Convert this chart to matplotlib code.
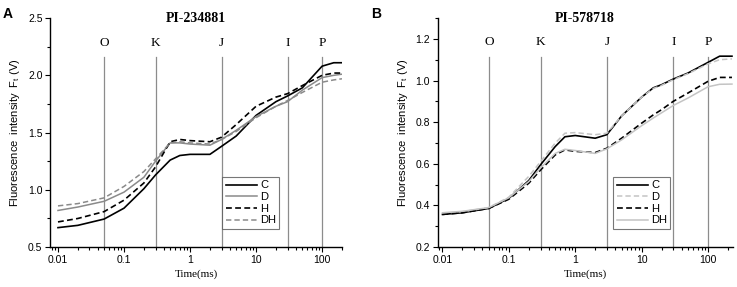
import matplotlib
matplotlib.use("Agg")
import matplotlib.pyplot as plt
from matplotlib.ticker import MultipleLocator, LogLocator, FixedLocator, NullFormatter
import numpy as np

plt.rcParams['font.family'] = ['Liberation Sans', 'DejaVu Sans']

# time points (ms)
t = [0.01, 0.02, 0.05, 0.1, 0.2, 0.3, 0.5, 0.7, 1, 2, 3, 5, 10, 20, 30, 50, 100, 150, 200]

# panel A: PI-234881
a_C = [0.67, 0.69, 0.745, 0.84, 1.01, 1.13, 1.26, 1.30, 1.31, 1.31, 1.38, 1.47, 1.65, 1.77, 1.82, 1.89, 2.08, 2.11, 2.11]
a_D = [0.82, 0.85, 0.90, 0.98, 1.11, 1.25, 1.41, 1.41, 1.40, 1.39, 1.44, 1.52, 1.64, 1.73, 1.77, 1.87, 1.98, 2.00, 2.01]
a_H = [0.72, 0.75, 0.81, 0.91, 1.06, 1.20, 1.42, 1.44, 1.43, 1.42, 1.46, 1.57, 1.73, 1.81, 1.84, 1.91, 2.00, 2.02, 2.02]
a_DH = [0.86, 0.88, 0.93, 1.03, 1.16, 1.27, 1.41, 1.42, 1.41, 1.40, 1.44, 1.51, 1.63, 1.73, 1.78, 1.85, 1.94, 1.96, 1.97]

# panel B: PI-578718
tb = [0.01, 0.02, 0.05, 0.1, 0.2, 0.3, 0.5, 0.7, 1, 2, 3, 5, 10, 15, 20, 30, 50, 100, 150, 230]
b_C = [0.357, 0.365, 0.386, 0.434, 0.52, 0.595, 0.683, 0.73, 0.736, 0.723, 0.74, 0.83, 0.92, 0.965, 0.98, 1.007, 1.036, 1.087, 1.117, 1.117]
b_D = [0.362, 0.37, 0.39, 0.44, 0.54, 0.61, 0.70, 0.747, 0.75, 0.74, 0.747, 0.83, 0.92, 0.962, 0.977, 1.004, 1.033, 1.08, 1.10, 1.104]
b_H = [0.357, 0.365, 0.386, 0.43, 0.507, 0.57, 0.643, 0.667, 0.66, 0.654, 0.675, 0.723, 0.795, 0.835, 0.86, 0.90, 0.94, 0.996, 1.015, 1.015]
b_DH = [0.365, 0.372, 0.39, 0.437, 0.515, 0.58, 0.65, 0.67, 0.664, 0.65, 0.672, 0.715, 0.783, 0.82, 0.845, 0.88, 0.916, 0.97, 0.982, 0.983]

marks = [0.05, 0.3, 3, 30, 100]
mark_labels = ['O', 'K', 'J', 'I', 'P']
xticks = [0.01, 0.1, 1, 10, 100]
xticklabels = ['0.01', '0.1', '1', '10', '100']

fig = plt.figure(figsize=(7.37, 2.87), dpi=100)
axA = fig.add_axes([0.068, 0.139, 0.396, 0.798])
axB = fig.add_axes([0.594, 0.139, 0.400, 0.798])


def style_axis(ax, ylim, ymajor, yminor, xlim, title, line_top, label_y):
    ax.set_xscale('log')
    ax.set_xlim(*xlim)
    ax.set_ylim(*ylim)
    for s in ['top', 'right']:
        ax.spines[s].set_visible(False)
    for s in ['left', 'bottom']:
        ax.spines[s].set_linewidth(1.0)
    ax.xaxis.set_major_locator(FixedLocator(xticks))
    ax.set_xticklabels(xticklabels)
    ax.xaxis.set_minor_locator(LogLocator(base=10, subs=np.arange(2, 10)))
    ax.xaxis.set_minor_formatter(NullFormatter())
    ax.yaxis.set_major_locator(MultipleLocator(ymajor))
    ax.yaxis.set_minor_locator(MultipleLocator(yminor))
    ax.tick_params(which='major', direction='out', length=3.5, width=0.8, labelsize=7.5, pad=2)
    ax.tick_params(which='minor', direction='out', length=2, width=0.8)
    ax.text(0.5, 1.0, title, transform=ax.transAxes, ha='center', va='center',
            fontsize=10, fontweight='bold', family='Liberation Serif')
    ax.set_xlabel('Time(ms)', fontsize=8, family='Liberation Serif', labelpad=3)
    ax.set_ylabel('Fluorescence  intensity  F$_\\mathregular{t}$ (V)', fontsize=8, labelpad=4)
    for m, lab in zip(marks, mark_labels):
        ax.plot([m, m], [ylim[0], line_top], color='#8c8c8c', lw=0.9, zorder=1)
        ax.text(m, label_y, lab, ha='center', va='center', fontsize=9.5, family='Liberation Serif')


style_axis(axA, (0.5, 2.5), 0.5, 0.25, (0.0076, 200), 'PI-234881', 2.16, 2.28)
axA.plot(t, a_C, color='black', lw=1.2, label='C', zorder=3)
axA.plot(t, a_D, color='#8a8a8a', lw=1.1, label='D', zorder=3)
axA.plot(t, a_H, color='black', lw=1.2, ls=(0, (3.5, 2)), label='H', zorder=3)
axA.plot(t, a_DH, color='#8a8a8a', lw=1.1, ls=(0, (3.5, 2)), label='DH', zorder=3)

style_axis(axB, (0.2, 1.3), 0.2, 0.1, (0.0085, 235), 'PI-578718', 1.115, 1.187)
axB.yaxis.set_major_locator(FixedLocator([0.2, 0.4, 0.6, 0.8, 1.0, 1.2]))
axB.plot(tb, b_C, color='black', lw=1.2, label='C', zorder=3)
axB.plot(tb, b_D, color='#c4c4c4', lw=1.1, ls=(0, (3.5, 2)), label='D', zorder=3)
axB.plot(tb, b_H, color='black', lw=1.2, ls=(0, (3.5, 2)), label='H', zorder=3)
axB.plot(tb, b_DH, color='#c4c4c4', lw=1.1, label='DH', zorder=3)

for ax, anchor in [(axA, (0.59, 0.08)), (axB, (0.595, 0.08))]:
    leg = ax.legend(loc='lower left', bbox_to_anchor=anchor, fontsize=8, frameon=True,
                    fancybox=False, edgecolor='#555555', handlelength=2.8, handletextpad=0.3,
                    labelspacing=0.15, borderpad=0.3, borderaxespad=0)
    leg.get_frame().set_linewidth(0.8)

fig.text(0.003, 0.975, 'A', fontsize=10, fontweight='bold', va='top')
fig.text(0.503, 0.975, 'B', fontsize=10, fontweight='bold', va='top')

fig.savefig('out.png', dpi=100)
